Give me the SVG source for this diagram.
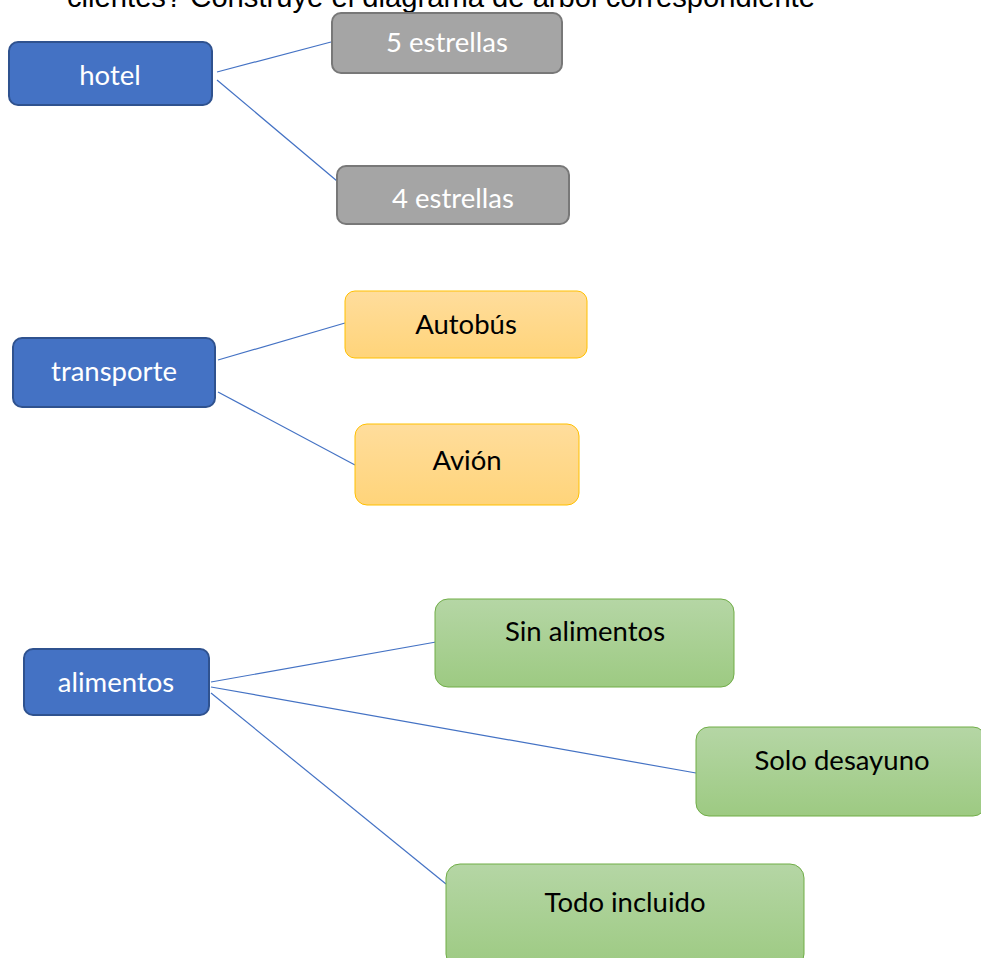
<svg xmlns="http://www.w3.org/2000/svg" width="981" height="958" viewBox="0 0 981 958">
<defs>
<linearGradient id="gOrange" x1="0" y1="0" x2="0" y2="1">
<stop offset="0" stop-color="#FFDD9C"/>
<stop offset="1" stop-color="#FFD47A"/>
</linearGradient>
<linearGradient id="gGreen" x1="0" y1="0" x2="0" y2="1">
<stop offset="0" stop-color="#B5D6A5"/>
<stop offset="1" stop-color="#9DCA82"/>
</linearGradient>
<style>
.blue{fill:#4472C4;stroke:#2F528F;stroke-width:2}
.gray{fill:#A5A5A5;stroke:#787878;stroke-width:2}
.orange{fill:url(#gOrange);stroke:#FFC000;stroke-width:1}
.green{fill:url(#gGreen);stroke:#70AD47;stroke-width:1}
.lbl{font-family:Lato,"Open Sans",sans-serif;font-size:27.5px;text-anchor:middle}
.w{fill:#FFFFFF}
.k{fill:#000000}
.conn line{stroke:#4472C4;stroke-width:1.2}
.head{font-family:"Liberation Sans",Arial,sans-serif;font-size:29.2px;fill:#000}
</style>
</defs>
<rect width="981" height="958" fill="#FFFFFF"/>
<text class="head" x="67" y="7">clientes? Construye el diagrama de árbol correspondiente</text>
<g id="connectors" class="conn">
<line x1="217" y1="72" x2="331" y2="42"/>
<line x1="217" y1="80" x2="337" y2="181"/>
<line x1="218" y1="360" x2="345" y2="323"/>
<line x1="218" y1="392" x2="355" y2="465"/>
<line x1="211" y1="682" x2="436" y2="642"/>
<line x1="211" y1="687" x2="696" y2="773"/>
<line x1="211" y1="693" x2="446" y2="884"/>
</g>
<g id="hotel"><rect class="blue" x="9" y="42" width="203" height="63" rx="9"/><text class="lbl w" x="110" y="85">hotel</text></g>
<g id="cinco"><rect class="gray" x="332" y="13" width="230" height="60" rx="9"/><text class="lbl w" x="447" y="52">5 estrellas</text></g>
<g id="cuatro"><rect class="gray" x="337" y="166" width="232" height="58" rx="9"/><text class="lbl w" x="453" y="208">4 estrellas</text></g>
<g id="transporte"><rect class="blue" x="13" y="338" width="202" height="69" rx="9"/><text class="lbl w" x="114" y="381">transporte</text></g>
<g id="autobus"><rect class="orange" x="345" y="291" width="242" height="67" rx="10"/><text class="lbl k" x="466" y="334">Autobús</text></g>
<g id="avion"><rect class="orange" x="355" y="424" width="224" height="81" rx="12"/><text class="lbl k" x="467" y="470">Avión</text></g>
<g id="alimentos"><rect class="blue" x="24" y="649" width="185" height="66" rx="9"/><text class="lbl w" x="116" y="692">alimentos</text></g>
<g id="sin"><rect class="green" x="435" y="599" width="299" height="88" rx="13"/><text class="lbl k" x="585" y="641">Sin alimentos</text></g>
<g id="solo"><rect class="green" x="696" y="727" width="290" height="89" rx="13"/><text class="lbl k" x="842" y="770">Solo desayuno</text></g>
<g id="todo"><rect class="green" x="446" y="864" width="358" height="104" rx="14"/><text class="lbl k" x="625" y="912">Todo incluido</text></g>
</svg>
